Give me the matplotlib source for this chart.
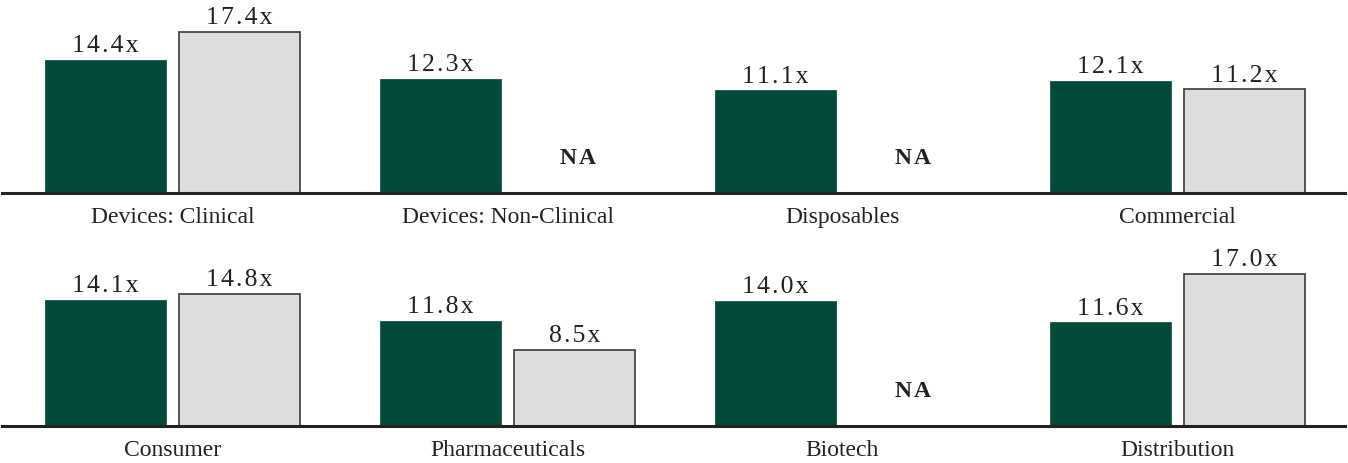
import numpy as np
import matplotlib

matplotlib.use("Agg")
import matplotlib.pyplot as plt

# data
top_categories = ["Devices: Clinical", "Devices: Non-Clinical", "Disposables", "Commercial"]
top_first = [14.4, 12.3, 11.1, 12.1]
top_second = [17.4, np.nan, np.nan, 11.2]

bottom_categories = ["Consumer", "Pharmaceuticals", "Biotech", "Distribution"]
bottom_first = [14.1, 11.8, 14.0, 11.6]
bottom_second = [14.8, 8.5, np.nan, 17.0]

GREEN = "#02493a"
GRAY = "#dcdddf"
HAIR = "\u200a"

plt.rcParams['font.family'] = ['Liberation Serif', 'DejaVu Serif']


def spaced(s):
    # the reference uses loose letter spacing on the value labels
    return HAIR.join(s)


def draw_row(ax, categories, first, second, ymax):
    x = np.arange(len(categories))
    width = 0.362
    off = 0.2
    ax.bar(x - off, first, width, color=GREEN, edgecolor=GREEN, linewidth=0.5)
    sec = np.array(second, dtype=float)
    ax.bar(x + off, np.nan_to_num(sec), width, color=GRAY, edgecolor="#3a3a3a", linewidth=1.2)

    for xi, v in zip(x, first):
        ax.annotate(spaced(f"{v:.1f}x"), (xi - off, v), xytext=(0, 2), textcoords="offset points",
                    ha="center", va="bottom", fontsize=18.5, color="#222222")
    for xi, v in zip(x, sec):
        if np.isnan(v):
            ax.annotate("N" + HAIR + "A", (xi + off + 0.01, 0), xytext=(0, 24.5),
                        textcoords="offset points", ha="center", va="center",
                        fontsize=17, fontweight="bold", color="#222222")
        else:
            ax.annotate(spaced(f"{v:.1f}x"), (xi + off, v), xytext=(0, 2), textcoords="offset points",
                        ha="center", va="bottom", fontsize=18.5, color="#222222")

    ax.set_xlim(-0.5, len(categories) - 0.5)
    ax.set_ylim(0, ymax)
    ax.set_xticks(x)
    ax.set_xticklabels(categories, fontsize=17, color="#222222")
    ax.tick_params(axis="x", length=0, pad=10)
    ax.set_yticks([])
    for s in ["top", "left", "right"]:
        ax.spines[s].set_visible(False)
    ax.spines["bottom"].set_linewidth(2.2)
    ax.spines["bottom"].set_color("#222222")


W, H = 1348, 463
fig = plt.figure(figsize=(W / 100, H / 100), dpi=100)
ax1 = fig.add_axes([5 / W, (H - 193) / H, 1340 / W, 193 / H])
ax2 = fig.add_axes([5 / W, (H - 426) / H, 1340 / W, 193 / H])
for ax in (ax1, ax2):
    ax.spines["bottom"].set_bounds(-0.51, 3.5)

draw_row(ax1, top_categories, top_first, top_second, 193 / 9.25)
draw_row(ax2, bottom_categories, bottom_first, bottom_second, 193 / 8.94)

fig.savefig("out.png", dpi=100)
